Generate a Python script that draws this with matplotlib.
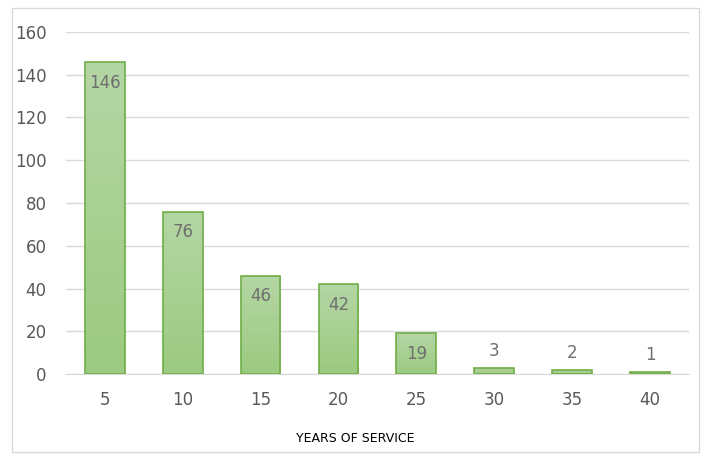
import numpy as np
import matplotlib.pyplot as plt
from matplotlib.patches import Rectangle
from matplotlib.colors import LinearSegmentedColormap

years = ['5', '10', '15', '20', '25', '30', '35', '40']
counts = [146, 76, 46, 42, 19, 3, 2, 1]

fig = plt.figure(figsize=(7.08, 4.57), dpi=100)
ax = fig.add_axes([0.093, 0.1816, 0.88, 0.7484])

# outer chart border
fig.patches.append(Rectangle((0.017, 0.01), 0.97, 0.973, transform=fig.transFigure,
                             fill=False, edgecolor='#d9d9d9', linewidth=1))

x = np.arange(len(years))
bars = ax.bar(x, counts, width=0.51, color='none', edgecolor='#70ad47', linewidth=1.2, zorder=3)

grad = np.linspace(0, 1, 256).reshape(-1, 1)
cmap = LinearSegmentedColormap.from_list('g', ['#9cca81', '#b4d6a4'])
for b, v in zip(bars, counts):
    x0 = b.get_x()
    w = b.get_width()
    im = ax.imshow(grad, cmap=cmap, aspect='auto', origin='lower',
                   extent=[x0, x0 + w, 0, v], zorder=2)
    im.set_clip_path(b)
    if v > 10:
        ax.text(x0 + w / 2, v - 5.5, str(v), ha='center', va='top', fontsize=12, color='#6f6f6f', zorder=4)
    else:
        ax.text(x0 + w / 2, v + 3.5, str(v), ha='center', va='bottom', fontsize=12, color='#6f6f6f', zorder=4)

ax.set_xlim(-0.5, len(years) - 0.5)
ax.set_ylim(0, 160)
ax.set_yticks(range(0, 161, 20))
ax.set_xticks(x)
ax.set_xticklabels(years)
ax.yaxis.grid(True, color='#d9d9d9', linewidth=1, zorder=0)
ax.set_axisbelow(True)
for s in ['top', 'right', 'left']:
    ax.spines[s].set_visible(False)
ax.spines['bottom'].set_color('#d9d9d9')
ax.tick_params(axis='both', length=0, labelsize=12, labelcolor='#595959')
ax.tick_params(axis='x', pad=12)
ax.tick_params(axis='y', pad=14)
ax.set_xlabel('YEARS OF SERVICE', fontsize=9, color='black', labelpad=18)
ax.xaxis.set_label_coords(0.464, -0.17)

fig.savefig('out.png', dpi=100)
